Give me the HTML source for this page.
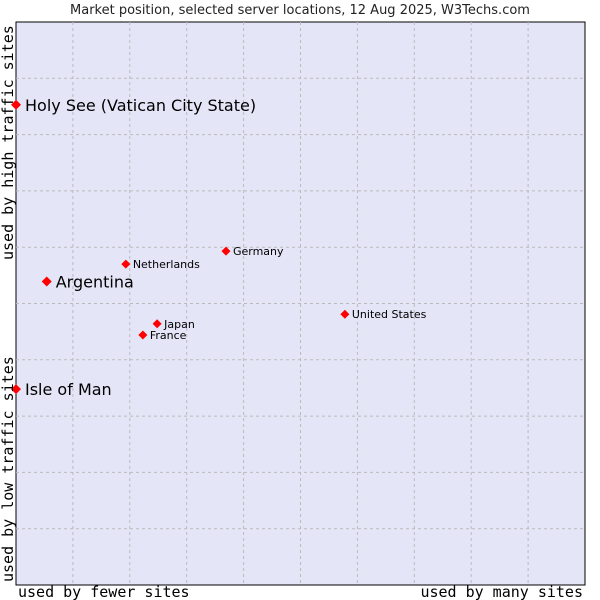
<!DOCTYPE html>
<html><head><meta charset="utf-8"><style>
body{margin:0;background:#fff;width:600px;height:600px;overflow:hidden}
svg{display:block}
</style></head><body>
<svg id="c" width="600" height="600" xmlns="http://www.w3.org/2000/svg">
<text x="300" y="14" text-anchor="middle" font-family="DejaVu Sans, sans-serif" font-size="13" fill="#222">Market position, selected server locations, 12 Aug 2025, W3Techs.com</text>
<rect x="16" y="22" width="569" height="563" fill="#e4e6f8" stroke="#000" stroke-width="1"/>
<g id="grid"></g>
<g id="pts"></g>
<text x="18" y="597" font-family="DejaVu Sans Mono, monospace" font-size="15" fill="#000">used by fewer sites</text>
<text x="583" y="597" text-anchor="end" font-family="DejaVu Sans Mono, monospace" font-size="15" fill="#000">used by many sites</text>
<text transform="translate(13,582) rotate(-90)" font-family="DejaVu Sans Mono, monospace" font-size="15" fill="#000">used by low traffic sites</text>
<text transform="translate(13,260) rotate(-90)" font-family="DejaVu Sans Mono, monospace" font-size="15" fill="#000">used by high traffic sites</text>
</svg>
<script>
const names=["Holy See (Vatican City State)","Argentina","Isle of Man","Netherlands","Germany","United States","Japan","France"];
const xVals=[0,5.4,0,19.3,36.9,57.8,24.8,22.3];
const yVals=[85.3,53.9,34.8,57.0,59.3,48.1,46.4,44.4];
const big=[true,true,true,false,false,false,false,false];
const L=16,T=22,W=569,H=563;
const sx=v=>L+v/100*W, sy=v=>T+H-v/100*H;
const ns="http://www.w3.org/2000/svg";
const g=document.getElementById('grid');
for(let i=1;i<10;i++){
  const a=document.createElementNS(ns,'line');
  
  
  const x=sx(i*10);a.setAttribute('x1',x);a.setAttribute('x2',x);a.setAttribute('y1',T);a.setAttribute('y2',T+H);
  a.setAttribute('stroke','#bbb');a.setAttribute('stroke-dasharray','3,3');g.appendChild(a);
  const b=document.createElementNS(ns,'line');
  
  
  const y=sy(i*10);b.setAttribute('y1',y);b.setAttribute('y2',y);b.setAttribute('x1',L);b.setAttribute('x2',L+W);
  b.setAttribute('stroke','#bbb');b.setAttribute('stroke-dasharray','3,3');g.appendChild(b);
}
const p=document.getElementById('pts');
names.forEach((n,i)=>{
  const x=sx(xVals[i]),y=sy(yVals[i]),r=big[i]?5:4.5;
  const d=document.createElementNS(ns,'polygon');
  
  
  d.setAttribute('points',`${x-r},${y} ${x},${y-r} ${x+r},${y} ${x},${y+r}`);
  d.setAttribute('fill','#f00');p.appendChild(d);
  const t=document.createElementNS(ns,'text');
  
  
  t.setAttribute('x',x+(big[i]?9:7));t.setAttribute('y',y+(big[i]?6:4));
  t.setAttribute('font-family','DejaVu Sans, sans-serif');
  t.setAttribute('font-size',big[i]?16:11);t.setAttribute('fill','#000');
  t.textContent=n;p.appendChild(t);
});
</script>
</body></html>
